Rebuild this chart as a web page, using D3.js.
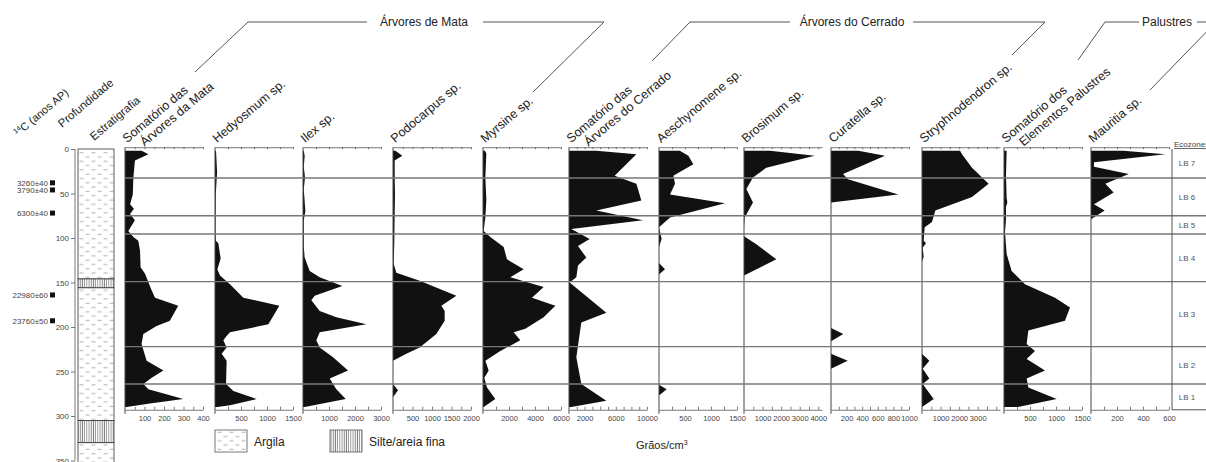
<!DOCTYPE html>
<html>
<head>
<meta charset="utf-8">
<script src="https://cdn.jsdelivr.net/npm/d3@7"></script>
<style>
  body { margin: 0; background: #fff; }
  svg { display: block; font-family: "Liberation Sans", Arial, sans-serif; }
  .axis path, .axis line { stroke: #555; stroke-width: 0.8; }
  .axis text { fill: #444; font-size: 7.5px; }
</style>
</head>
<body>
<div id="chart"></div>
<script>
// taxa, in panel order ("|" splits the two-line titles)
var taxa = [
  "Somatório das|Árvores da Mata", "Hedyosmum sp.", "Ilex sp.", "Podocarpus sp.", "Myrsine sp.",
  "Somatório das|Árvores do Cerrado", "Aeschynomene sp.", "Brosimum sp.", "Curatella sp.",
  "Stryphnodendron sp.", "Somatório dos|Elementos Palustres", "Mauritia sp."
];
var axisMax = [400, 1500, 3000, 2000, 6000, 10000, 1500, 4200, 1000, 4200, 1500, 600];
var tickLabels = [
  [100, 200, 300, 400], [500, 1000, 1500], [1000, 2000, 3000], [500, 1000, 1500, 2000],
  [2000, 4000, 6000], [2000, 6000, 10000], [500, 1000, 1500], [1000, 2000, 3000, 4000],
  [200, 400, 600, 800, 1000], [1000, 2000, 3000], [500, 1000, 1500], [200, 400, 600]
];
var minorStep = [50, 250, 500, 250, 1000, 1000, 250, 500, 100, 500, 250, 100];

// [depth cm, grains/cm3]
var mataSum = [[2,85],[6,120],[13,51],[32,43],[51,40],[62,26],[67,46],[73,26],[80,51],[92,17],[99,43],[103,68],[114,77],[133,80],[140,102],[159,137],[167,154],[176,273],[193,230],[199,162],[208,94],[219,85],[238,111],[249,197],[257,137],[264,94],[270,120],[281,299],[286,128],[290,8]];
var hedyosmum = [[2,20],[26,40],[51,15],[92,10],[103,15],[106,64],[123,109],[135,45],[142,96],[152,288],[167,545],[176,1237],[197,1026],[206,288],[210,224],[215,160],[223,224],[230,128],[238,224],[264,212],[272,353],[281,801],[288,288],[290,45]];
var ilex = [[2,30],[8,64],[20,30],[32,77],[45,30],[70,90],[80,30],[110,30],[122,64],[137,257],[144,642],[154,1513],[165,449],[170,321],[182,642],[189,1283],[197,2437],[206,642],[215,513],[223,642],[234,1155],[249,1733],[258,1027],[270,1283],[281,1643],[290,64]];
var podocarpus = [[2,60],[7.5,239],[13,43],[32,43],[51,51],[70,43],[103,34],[129,17],[139,85],[148,684],[165,1624],[176,1239],[182,1325],[193,1325],[208,1111],[223,684],[230,342],[238,0],[264,0],[271,128],[279,0],[290,0]];
var myrsine = [[2,150],[5,256],[32,180],[57,256],[77,180],[92,51],[99,564],[110,1590],[124,1846],[135,3128],[144,2102],[155,4665],[167,3768],[176,5563],[189,4665],[202,3255],[206,2358],[215,2870],[227,1333],[238,180],[249,436],[257,103],[268,308],[281,948],[290,51]];
var cerradoSum = [[2,3500],[6,8632],[30,5855],[39,8632],[45,8846],[58,9274],[69,3504],[80,9487],[90,300],[101,2650],[109,1154],[122,2222],[131,1154],[144,940],[150,85],[184,4786],[195,1581],[208,1368],[234,940],[264,1581],[283,4786],[290,300]];
var aeschynomene = [[2,400],[7.5,564],[17,660],[30,276],[39,308],[51,212],[61,1269],[77,212],[88,0],[101,51],[110,0],[128,0],[135,115],[141,0],[265,0],[270,147],[277,0],[290,0]];
var brosimum = [[2,1400],[7.5,3803],[21,1201],[32,484],[45,126],[60,484],[77,36],[88,0],[98,0],[107,664],[124,1740],[142,0],[290,0]];
var curatella = [[2,350],[7.5,692],[28,154],[34,218],[51,863],[60,0],[201,0],[208,158],[216,0],[230,0],[238,214],[247,0],[290,0]];
var stryphnodendron = [[2,2050],[6,2154],[21,2692],[39,3589],[54,2692],[69,718],[82,538],[88,144],[103,90],[106,215],[111,36],[121,90],[127,0],[230,0],[238,395],[247,36],[258,395],[264,36],[281,628],[290,0]];
var palustresSum = [[2,51],[30,38],[55,51],[60,64],[65,38],[80,38],[93,19],[118,51],[137,147],[152,404],[167,981],[178,1269],[193,1173],[204,468],[219,436],[227,596],[236,436],[249,788],[258,436],[268,468],[281,1013],[290,270]];
var mauritia = [[2,250],[6,572],[15,23],[20,23],[28,290],[39,110],[49,174],[62,23],[69,105],[79,0]];

var profiles = [mataSum, hedyosmum, ilex, podocarpus, myrsine, cerradoSum, aeschynomene, brosimum, curatella, stryphnodendron, palustresSum, mauritia];

var zoneNames = ["LB 7", "LB 6", "LB 5", "LB 4", "LB 3", "LB 2", "LB 1"];
var zoneBounds = [0, 32.6, 75, 95.5, 149, 222, 264, 293];

var ageLabels = ["3260±40", "3790±40", "6300±40", "22980±60", "23760±50"];
var ageDepths = [38, 46, 72, 164, 193];

var stratTypes = ["argila", "silte", "argila", "silte", "argila"];
var stratTops = [0, 146, 156, 305, 330];
var stratBottoms = [146, 156, 305, 330, 355];

// layout
var width = 1206, height = 462;
var panelLeft = [125, 215, 303, 393, 483, 569, 659, 744, 831, 922, 1004, 1091];
var panelWidth = 78;
var y = d3.scaleLinear().domain([0, 350]).range([149, 460.5]);
var topY = y(-2), bottomY = y(293);

var svg = d3.select("#chart").append("svg")
    .attr("width", width)
    .attr("height", height);

var defs = svg.append("defs");
var pArg = defs.append("pattern").attr("id", "argila")
    .attr("patternUnits", "userSpaceOnUse").attr("width", 12).attr("height", 8.6);
pArg.append("rect").attr("width", 12).attr("height", 8.6).attr("fill", "#fff");
pArg.append("line").attr("x1", 1.5).attr("x2", 5.5).attr("y1", 2.2).attr("y2", 2.2)
    .attr("stroke", "#999").attr("stroke-width", 0.8);
pArg.append("line").attr("x1", 7.5).attr("x2", 11.5).attr("y1", 6.5).attr("y2", 6.5)
    .attr("stroke", "#999").attr("stroke-width", 0.8);
var pSil = defs.append("pattern").attr("id", "silte")
    .attr("patternUnits", "userSpaceOnUse").attr("width", 2.2).attr("height", 10);
pSil.append("rect").attr("width", 2.2).attr("height", 10).attr("fill", "#fff");
pSil.append("line").attr("x1", 1).attr("x2", 1).attr("y1", 0).attr("y2", 10)
    .attr("stroke", "#777").attr("stroke-width", 0.8);

// depth axis
svg.append("g")
    .attr("class", "axis")
    .attr("transform", "translate(75,0)")
    .call(d3.axisLeft(y).tickValues(d3.range(0, 351, 50)).tickSize(4).tickPadding(2))
    .call(function(g) { g.select(".domain").attr("d", "M0," + y(0) + "V" + y(350)); })
    .selectAll("text").style("font-size", "8px");

// stratigraphy column
var stratX = 78, stratW = 36;
stratTypes.forEach(function(t, i) {
  svg.append("rect")
      .attr("x", stratX).attr("y", y(stratTops[i]))
      .attr("width", stratW).attr("height", y(stratBottoms[i]) - y(stratTops[i]))
      .attr("fill", "url(#" + t + ")")
      .attr("stroke", "#333").attr("stroke-width", 0.8);
});

// 14C ages
var ages = svg.append("g");
ageLabels.forEach(function(a, i) {
  ages.append("text")
      .attr("x", 48).attr("y", y(ageDepths[i]))
      .attr("dy", "0.35em")
      .attr("text-anchor", "end")
      .attr("font-size", 8).attr("fill", "#444")
      .text(a);
  ages.append("rect")
      .attr("x", 50).attr("y", y(ageDepths[i]) - 2.5)
      .attr("width", 5).attr("height", 5).attr("fill", "#111");
});

// rotated titles
function rotLabel(x0, y0, lines, size) {
  var t = svg.append("text")
      .attr("transform", "translate(" + x0 + "," + y0 + ") rotate(-40)")
      .attr("font-size", size).attr("fill", "#222");
  t.append("tspan").attr("x", 0).attr("y", 0).text(lines[0]);
  if (lines[1]) t.append("tspan").attr("x", 11).attr("y", 14).text(lines[1]);
  return t;
}
var c14 = svg.append("text")
    .attr("transform", "translate(18,137) rotate(-40)")
    .attr("font-size", 11).attr("fill", "#222");
c14.append("tspan").attr("font-size", 7).attr("dy", -4).text("14");
c14.append("tspan").attr("dy", 4).text("C (anos AP)");
rotLabel(62, 128, ["Profundidade"], 11.5);
rotLabel(94, 141, ["Estratigrafia"], 11.5);

// pollen curves
profiles.forEach(function(prof, i) {
  var x = d3.scaleLinear().domain([0, axisMax[i]]).range([panelLeft[i], panelLeft[i] + panelWidth]);
  var area = d3.area()
      .y(function(d) { return y(d[0]); })
      .x0(x(0))
      .x1(function(d) { return x(d[1]); });

  svg.append("path")
      .datum(prof)
      .attr("d", area)
      .attr("fill", "#111");

  var minor = d3.range(minorStep[i], axisMax[i] + 1e-6, minorStep[i]);

  svg.append("g")
      .attr("class", "axis")
      .attr("transform", "translate(0," + topY + ")")
      .call(d3.axisTop(x).tickValues(minor).tickSizeInner(-2).tickSizeOuter(0).tickFormat(""));

  svg.append("g")
      .attr("class", "axis")
      .attr("transform", "translate(0," + bottomY + ")")
      .call(d3.axisBottom(x).tickValues(minor).tickSizeInner(-3).tickSizeOuter(0).tickPadding(6)
        .tickFormat(function(d) { return tickLabels[i].indexOf(d) >= 0 ? d : ""; }));

  svg.append("line")
      .attr("x1", x(0)).attr("x2", x(0))
      .attr("y1", topY).attr("y2", bottomY + 4)
      .attr("stroke", "#444").attr("stroke-width", 1);

  rotLabel(panelLeft[i] + 2, topY - 4, taxa[i].split("|"), 12.5);
});

// ecozone boundaries
svg.append("g").selectAll("line")
    .data(zoneBounds.slice(1, -1))
    .enter().append("line")
    .attr("x1", panelLeft[0]).attr("x2", width)
    .attr("y1", function(d) { return y(d); })
    .attr("y2", function(d) { return y(d); })
    .attr("stroke", "#777").attr("stroke-width", 1.4);

var ecoX = 1172;
svg.append("path")
    .attr("d", "M" + ecoX + "," + y(0) + "V" + bottomY + "H" + width)
    .attr("fill", "none").attr("stroke", "#555").attr("stroke-width", 1);
svg.append("text")
    .attr("x", ecoX + 2).attr("y", y(0) - 2)
    .attr("font-size", 8).attr("fill", "#444")
    .attr("text-decoration", "underline")
    .text("Ecozones");
svg.append("g").selectAll("text")
    .data(zoneNames)
    .enter().append("text")
    .attr("x", 1187)
    .attr("y", function(d, i) { return y((zoneBounds[i] + zoneBounds[i + 1]) / 2); })
    .attr("dy", "0.35em")
    .attr("text-anchor", "middle")
    .attr("font-size", 8).attr("fill", "#555")
    .text(function(d) { return d; });

// group headers
var groups = [
  { name: "Árvores de Mata", cx: 424, path: [[195,72],[248,22],[367,22]], path2: [[483,22],[604,22],[533,92]] },
  { name: "Árvores do Cerrado", cx: 852, path: [[652,61],[690,22],[790,22]], path2: [[913,22],[1045,22],[1012,55]] },
  { name: "Palustres", cx: 1167, path: [[1078,60],[1105,22],[1139,22]], path2: [[1197,22],[1216,22],[1150,90]] }
];
var line = d3.line();
groups.forEach(function(g) {
  svg.append("text")
      .attr("x", g.cx).attr("y", 26)
      .attr("text-anchor", "middle")
      .attr("font-size", 12).attr("fill", "#222")
      .text(g.name);
  [g.path, g.path2].forEach(function(p) {
    svg.append("path").attr("d", line(p))
        .attr("fill", "none").attr("stroke", "#555").attr("stroke-width", 1);
  });
});

// legend
var legend = [{ id: "argila", label: "Argila", x: 215 }, { id: "silte", label: "Silte/areia fina", x: 330 }];
legend.forEach(function(l) {
  svg.append("rect")
      .attr("x", l.x).attr("y", 430).attr("width", 32).attr("height", 22)
      .attr("fill", "url(#" + l.id + ")")
      .attr("stroke", "#555").attr("stroke-width", 0.8);
  svg.append("text")
      .attr("x", l.x + 39).attr("y", 446)
      .attr("font-size", 12).attr("fill", "#222")
      .text(l.label);
});

var unit = svg.append("text")
    .attr("x", 636).attr("y", 449)
    .attr("font-size", 11).attr("fill", "#222")
    .text("Grãos/cm");
unit.append("tspan").attr("font-size", 7).attr("dy", -4).text("3");
</script>
</body>
</html>
